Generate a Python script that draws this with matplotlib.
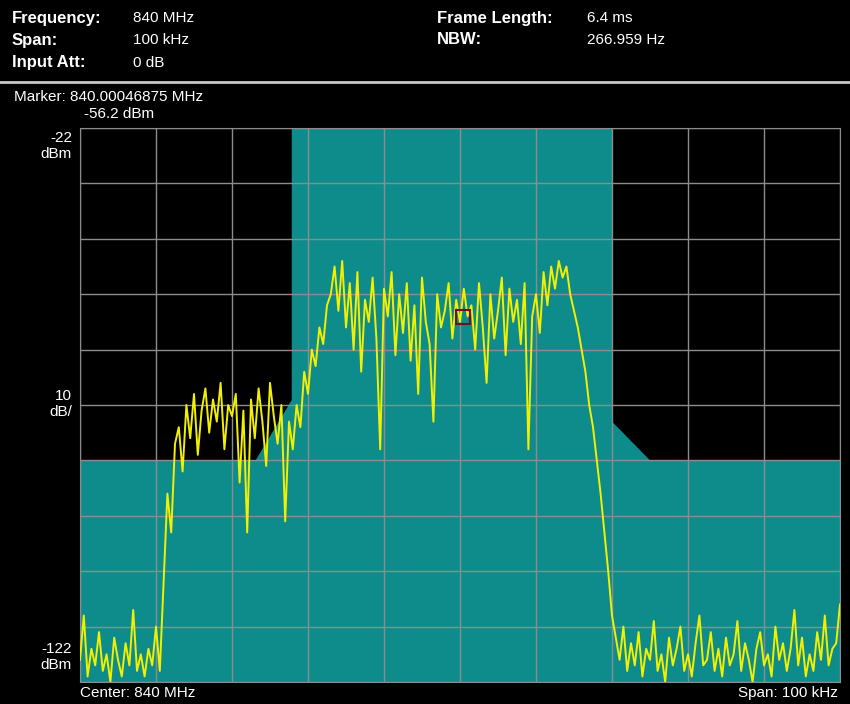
import numpy as np
import matplotlib
matplotlib.use("Agg")
import matplotlib.pyplot as plt

freq_khz = np.arange(-50, 50.01, 0.5)
level_dbm = [
 -118,-110,-121,-116,-119,-113,-120,-117,-122,-114,-118,-121,-115,-119,-109,-120,-117,-121,-116,-119,-112,-120,
 -104,-88,-95,-79,
 -76,-84,-72,-78,-70,-81,-73,-69,-77,-71,-75,-68,-80,-72,-74,-70,-86,-73,-95,-71,-78,-69,-75,-83,-68,-74,-79,-72,-93,-75,
 -80,-72,-76,-66,-70,-62,-65,-58,-61,-54,
 -52,-47,-55,-46,-58,-50,-62,-48,-66,-53,
 -57,-49,-60,-80,-51,-56,-48,-63,-52,-59,
 -50,-64,-54,-70,-49,-57,-61,-75,-52,-58,
 -55,-50,-60,-53,-57,-51,-56,-54,-62,-50,
 -58,-68,-52,-60,-55,-49,-63,-51,-57,-53,
 -61,-50,-80,-56,-52,-59,-48,-54,-47,-51,
 -46,-49,-47,-52,
 -55,-58,-62,-66,-72,-76,-82,-88,-95,-102,
 -110,-114,-118,-112,-120,-115,-119,-113,-121,-116,
 -118,-111,-120,-117,-122,-114,-119,-116,-112,-120,
 -117,-121,-115,-110,-119,-118,-113,-120,-116,-121,
 -114,-119,-117,-111,-120,-115,-118,-122,-116,-113,
 -119,-117,-121,-112,-118,-115,-120,-116,-109,-119,
 -114,-121,-117,-120,-113,-118,-110,-119,-116,-115,-108,
]
mask_f = [-50, -27, -22.2, -22.2, 20, 20, 25, 50]
mask_db = [-82, -82, -71, -22, -22, -75, -82, -82]
marker_f, marker_db = 0.4, -56.2

fig = plt.figure(figsize=(8.5, 7.04), dpi=100, facecolor="black")
ax = fig.add_axes([80/850, 1-682/704, 760/850, 554/704])
ax.set_facecolor("black")
ax.fill_between(mask_f, mask_db, -122, color="#0e8c8c", lw=0, zorder=1)
for v in np.linspace(-50, 50, 11):
    ax.axvline(v, color="#8c8c8c", lw=1, zorder=2)
for v in np.linspace(-122, -22, 11):
    ax.axhline(v, color="#8c8c8c", lw=1, zorder=2)
ax.plot(freq_khz, level_dbm, color="#f2f000", lw=1.4, zorder=3)
ax.plot([marker_f], [marker_db], marker="s", ms=10, mfc="none", mec="#701020", mew=1.5, zorder=4)
ax.set_xlim(-50, 50)
ax.set_ylim(-122, -22)
ax.set_xticks([]); ax.set_yticks([])
for s in ax.spines.values():
    s.set_color("#8c8c8c")

fs = 11
W, H = 850, 704
def T(x, y, s, **kw):
    fig.text(x/W, 1-y/H, s, color="white", fontsize=kw.pop("fs", fs), family="Liberation Sans", **kw)

T(12, 18, "Frequency:", weight="bold", va="center", fs=12)
T(12, 40, "Span:", weight="bold", va="center", fs=12)
T(12, 63, "Input Att:", weight="bold", va="center", fs=12)
T(133, 18, "840 MHz", va="center")
T(133, 40, "100 kHz", va="center")
T(133, 63, "0 dB", va="center")
T(437, 18, "Frame Length:", weight="bold", va="center", fs=12)
T(437, 40, "NBW:", weight="bold", va="center", fs=12)
T(587, 18, "6.4 ms", va="center")
T(587, 40, "266.959 Hz", va="center")
fig.add_artist(plt.Line2D([0, 1], [1-82/H, 1-82/H], color="#c8c8c8", lw=2))
T(14, 97, "Marker: 840.00046875 MHz", va="center")
T(84, 114, "-56.2 dBm", va="center")
T(72, 146, "-22\ndBm", ha="right", va="center", linespacing=1.15)
T(72, 404, "10\ndB/", ha="right", va="center", linespacing=1.15)
T(72, 657, "-122\ndBm", ha="right", va="center", linespacing=1.15)
T(80, 693, "Center: 840 MHz", va="center")
T(838, 693, "Span: 100 kHz", ha="right", va="center")
fig.savefig("out.png", dpi=100, facecolor="black")
